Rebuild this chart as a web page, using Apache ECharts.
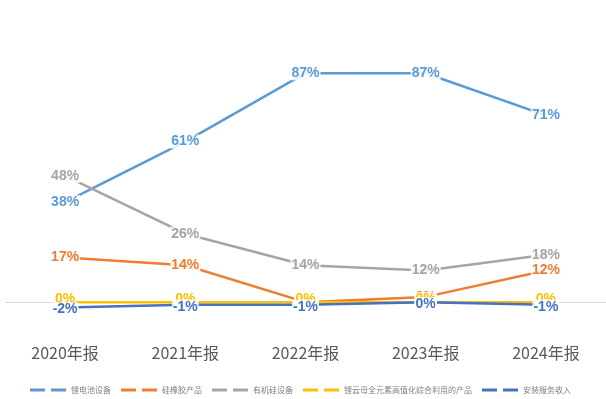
<!DOCTYPE html>
<html>
<head>
<meta charset="utf-8">
<script src="https://cdn.jsdelivr.net/npm/echarts@6/dist/echarts.min.js"></script>
<style>html,body{margin:0;padding:0;background:#fff}#c{width:606px;height:399px}</style>
</head>
<body>
<div id="c"></div>
<script>
const categories = ['2020年报', '2021年报', '2022年报', '2023年报', '2024年报'];
const seriesNames = ['锂电池设备', '硅橡胶产品', '有机硅设备', '锂云母全元素高值化综合利用的产品', '安装服务收入'];
const lithiumEquip = [38, 61, 87, 87, 71];
const siliconeRubber = [17, 14, 0, 2, 12];
const organosiliconEquip = [48, 26, 14, 12, 18];
const lepidolite = [0, 0, 0, 0, 0];
const installService = [-2, -1, -1, 0, -1];
const colors = ['#5b9bd5', '#ed7d31', '#a5a5a5', '#ffc000', '#4472c4'];
const labelPos = ['inside', 'inside', 'inside', 'top', 'bottom'];
const labelDist = [0, 0, 0, -4, -5];

const dataSets = [lithiumEquip, siliconeRubber, organosiliconEquip, lepidolite, installService];
const series = dataSets.map((d, i) => ({
  name: seriesNames[i],
  type: 'line',
  data: d,
  symbol: 'circle',
  symbolSize: 0,
  showSymbol: true,
  lineStyle: { width: 2.5, color: colors[i] },
  itemStyle: { color: colors[i] },
  label: {
    show: true,
    position: labelPos[i],
    distance: labelDist[i],
    formatter: '{c}%',
    color: colors[i],
    fontSize: 14,
    fontWeight: 'bold',
    fontFamily: 'Liberation Sans, Arial, sans-serif',
    backgroundColor: 'rgba(255,255,255,0.85)',
    padding: [0, 1]
  },
  labelLayout: { hideOverlap: false },
  emphasis: { disabled: true },
  z: 3,
  markLine: i === 0 ? {
    silent: true,
    symbol: 'none',
    label: { show: false },
    lineStyle: { color: '#d9d9d9', width: 1, type: 'solid' },
    data: [{ yAxis: 0 }],
    z: 1
  } : undefined
}));

const chart = echarts.init(document.getElementById('c'));
chart.setOption({
  animation: false,
  color: colors,
  grid: { left: 5, right: 0, top: 39, height: 300 },
  xAxis: {
    type: 'category',
    data: categories,
    boundaryGap: true,
    axisLine: { show: false },
    axisTick: { show: false },
    axisLabel: { color: '#595959', fontSize: 16, margin: 6, fontFamily: 'Noto Sans CJK SC, sans-serif' }
  },
  yAxis: {
    type: 'value',
    min: -14,
    max: 100,
    show: false,
    splitLine: { show: false }
  },
  legend: {
    left: 25,
    top: 381,
    itemWidth: 36,
    itemHeight: 3,
    itemGap: 10,
    icon: 'path://M0,0H15V3H0Z M21,0H36V3H21Z',
    textStyle: { color: '#7f7f7f', fontSize: 8, padding: [0, 0, 0, 0], fontFamily: 'Noto Sans CJK SC, sans-serif' },
    data: seriesNames
  },
  series: series
});
</script>
</body>
</html>
